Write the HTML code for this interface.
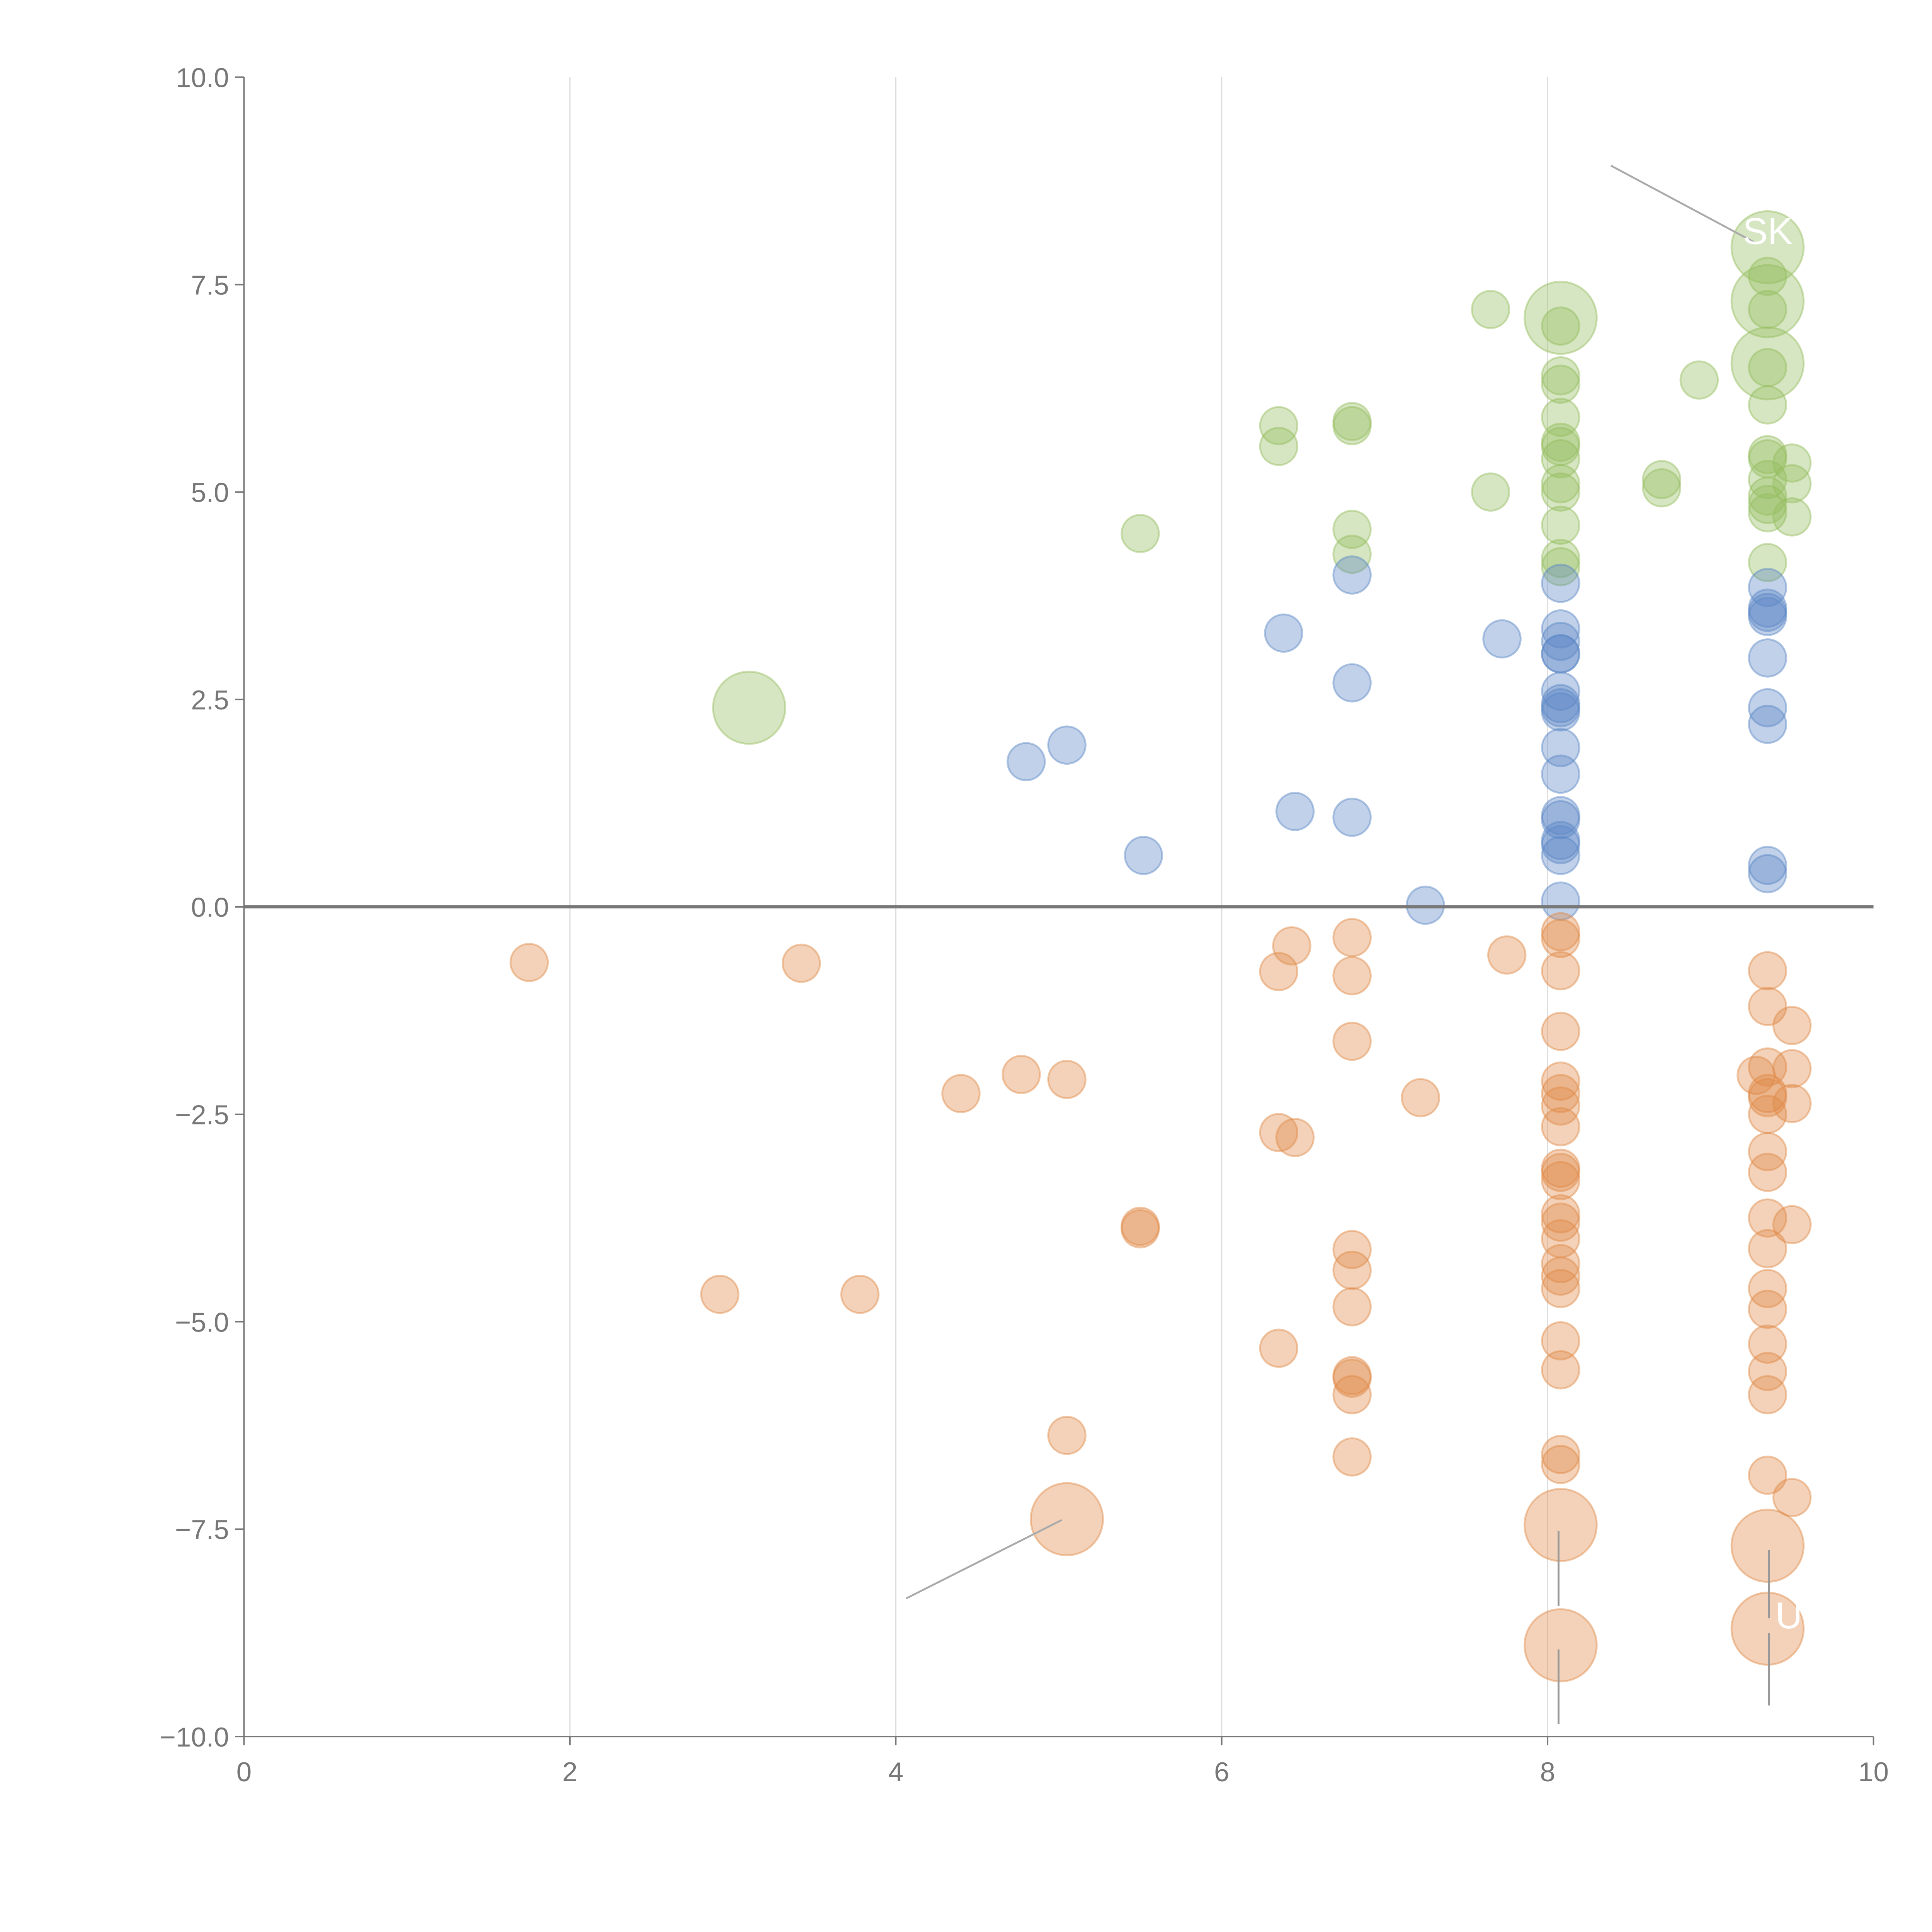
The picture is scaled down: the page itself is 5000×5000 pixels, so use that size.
<!DOCTYPE html>
<html><head><meta charset="utf-8"><style>
html,body{margin:0;padding:0;background:#fff;}
svg{display:block;}
text{font-family:"Liberation Sans",Arial,sans-serif;}
</style></head>
<body>
<svg id="chart" width="5000" height="5000" viewBox="0 0 1552 1552" xmlns="http://www.w3.org/2000/svg">
<g id="grid"></g>
<g id="marks"></g>
<g id="axes"></g>
<g id="annot">
<line x1="1294" y1="133" x2="1410" y2="195" stroke="#aaa" stroke-width="1.5"/>
<line x1="728" y1="1284" x2="853" y2="1221" stroke="#aaa" stroke-width="1.5"/>
<line x1="1252" y1="1230" x2="1252" y2="1290" stroke="#999" stroke-width="1.5"/>
<line x1="1252" y1="1325" x2="1252" y2="1385" stroke="#999" stroke-width="1.5"/>
<line x1="1421" y1="1245" x2="1421" y2="1300" stroke="#999" stroke-width="1.5"/>
<line x1="1421" y1="1312" x2="1421" y2="1370" stroke="#999" stroke-width="1.5"/>
<text x="1420" y="196" fill="#fff" font-size="30" text-anchor="middle">SK</text>
<text x="1437" y="1308" fill="#fff" font-size="30" text-anchor="middle">U</text>
</g>
</svg>
<script>
const greenX=[3.1,5.5,6.35,6.35,6.8,6.8,6.8,6.8,7.65,7.65,8.08,8.08,8.08,8.08,8.08,8.08,8.08,8.08,8.08,8.08,8.08,8.08,8.08,8.7,8.7,8.93,9.35,9.35,9.35,9.35,9.35,9.35,9.35,9.35,9.35,9.35,9.35,9.35,9.35,9.35,9.5,9.5,9.5];
const greenY=[2.4,4.5,5.8,5.55,5.85,5.8,4.55,4.25,7.2,5.0,7.1,7.0,6.4,6.3,5.9,5.6,5.55,5.4,5.1,5.0,4.6,4.2,4.1,5.15,5.05,6.35,7.95,7.3,7.6,7.2,6.55,6.5,6.05,5.45,5.4,5.15,4.95,4.85,4.75,4.15,5.35,5.1,4.7];
const greenBig=[0,10,26,27,30];
const blueX=[4.8,5.05,5.52,6.38,6.45,6.8,6.8,6.8,7.25,7.72,8.08,8.08,8.08,8.08,8.08,8.08,8.08,8.08,8.08,8.08,8.08,8.08,8.08,8.08,8.08,8.08,8.08,9.35,9.35,9.35,9.35,9.35,9.35,9.35,9.35,9.35];
const blueY=[1.75,1.95,0.62,3.3,1.15,4.0,2.7,1.08,0.02,3.23,3.9,3.35,3.2,3.05,3.05,2.6,2.45,2.4,2.35,1.92,1.6,1.1,1.05,0.8,0.75,0.62,0.07,3.85,3.6,3.55,3.5,3.0,2.4,2.2,0.5,0.4];
const orangeX=[1.75,3.42,2.92,3.78,4.4,4.77,5.05,5.5,5.5,5.05,5.05,6.35,6.43,6.35,6.45,6.35,6.8,6.8,6.8,6.8,6.8,6.8,6.8,6.8,6.8,6.8,7.22,7.75,8.08,8.08,8.08,8.08,8.08,8.08,8.08,8.08,8.08,8.08,8.08,8.08,8.08,8.08,8.08,8.08,8.08,8.08,8.08,8.08,8.08,8.08,8.08,9.35,9.35,9.28,9.35,9.35,9.35,9.35,9.35,9.35,9.35,9.35,9.35,9.35,9.35,9.35,9.35,9.35,9.35,9.35,9.5,9.5,9.5,9.5,9.5];
const orangeY=[-0.67,-0.68,-4.67,-4.67,-2.25,-2.02,-2.08,-3.85,-3.88,-6.37,-7.38,-0.78,-0.47,-2.72,-2.78,-5.32,-0.37,-0.83,-1.62,-4.13,-4.38,-4.82,-5.65,-5.68,-5.88,-6.63,-2.3,-0.58,-0.3,-0.38,-0.77,-1.5,-2.1,-2.25,-2.4,-2.65,-3.15,-3.2,-3.3,-3.7,-3.8,-4.0,-4.3,-4.45,-4.6,-5.23,-5.58,-6.6,-6.72,-7.45,-8.9,-0.77,-1.2,-2.03,-1.93,-2.25,-2.3,-2.5,-2.95,-3.2,-3.75,-4.12,-4.6,-4.85,-5.27,-5.6,-5.88,-6.85,-7.7,-8.7,-1.43,-1.95,-2.37,-3.83,-7.12];
const orangeBig=[10,49,50,68,69];
const xTicks=[0,2,4,6,8,10];
const yTicks=[10,7.5,5,2.5,0,-2.5,-5,-7.5,-10];
const yTickLabels=["10.0","7.5","5.0","2.5","0.0","\u22122.5","\u22125.0","\u22127.5","\u221210.0"];

const NS="http://www.w3.org/2000/svg";
const X0=196,X1=1505,Y0=1395,Y1=62;
const sx=v=>X0+(v-0)/(10-0)*(X1-X0);
const sy=v=>Y0-(v+10)/20*(Y0-Y1);
function mk(tag,attrs,parent){const e=document.createElementNS(NS,tag);for(const k in attrs)e.setAttribute(k,attrs[k]);parent.appendChild(e);return e;}
const grid=document.getElementById('grid'),marks=document.getElementById('marks'),axes=document.getElementById('axes');
[2,4,6,8].forEach(t=>{
  const l=mk('line',{x1:sx(t),x2:sx(t),y1:Y1,y2:Y0,stroke:'#ddd','stroke-width':1},grid);
  
  
});
function series(xs,ys,big,color,name){
  xs.forEach((x,i)=>{
    const r=big.includes(i)?29:15;
    const c=mk('circle',{cx:sx(x),cy:sy(ys[i]),r:r,fill:color,'fill-opacity':0.38,stroke:color,'stroke-opacity':0.45,'stroke-width':1.5},marks);
    
    
  });
}
series(greenX,greenY,greenBig,'#94bd5e','green');
series(blueX,blueY,[],'#5b87c5','blue');
series(orangeX,orangeY,orangeBig,'#e08a48','orange');
// zero line
const z=mk('line',{x1:X0,x2:X1,y1:sy(0),y2:sy(0),stroke:'#777','stroke-width':2.5},axes);


const ya=mk('line',{x1:X0,x2:X0,y1:Y1,y2:Y0,stroke:'#777','stroke-width':1.2},axes);


const xa=mk('line',{x1:X0,x2:X1,y1:Y0,y2:Y0,stroke:'#777','stroke-width':1.2},axes);


xTicks.forEach(t=>{
  const tk=mk('line',{x1:sx(t),x2:sx(t),y1:Y0,y2:Y0+7,stroke:'#777','stroke-width':1.2},axes);
  
  
  const tx=mk('text',{x:sx(t),y:Y0+36,'font-size':22,fill:'#777','text-anchor':'middle'},axes);
  tx.textContent=t;
  
  
});
yTicks.forEach((t,i)=>{
  const tk=mk('line',{x1:X0-7,x2:X0,y1:sy(t),y2:sy(t),stroke:'#777','stroke-width':1.2},axes);
  
  
  const tx=mk('text',{x:X0-12,y:sy(t)+8,'font-size':22,fill:'#777','text-anchor':'end'},axes);
  tx.textContent=yTickLabels[i];
  
  
});
</script>
</body></html>
